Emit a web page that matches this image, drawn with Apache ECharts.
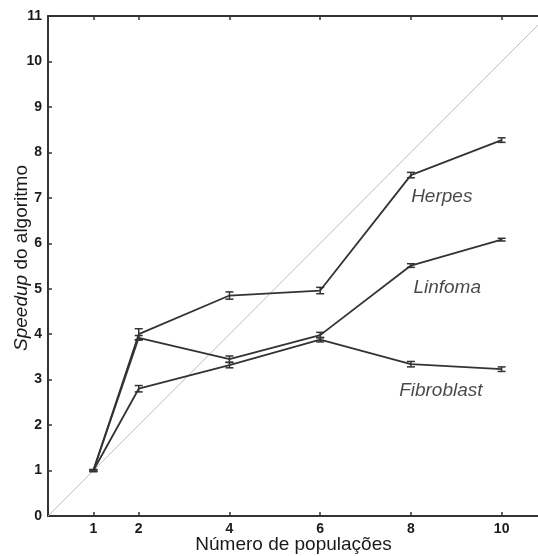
<!DOCTYPE html>
<html><head><meta charset="utf-8">
<script src="https://cdn.jsdelivr.net/npm/echarts@6/dist/echarts.min.js"></script>
<style>html,body{margin:0;padding:0;background:#fff}#c{width:538px;height:556px}</style>
</head><body><div id="c"></div>
<script>
const xValues = [1, 2, 4, 6, 8, 10];
const xTickLabels = [1, 2, 4, 6, 8, 10];
const herpes = [1.0, 4.0, 4.85, 4.96, 7.5, 8.27];
const herpesErr = [0.02, 0.12, 0.08, 0.07, 0.06, 0.05];
const linfoma = [1.0, 3.92, 3.45, 3.98, 5.51, 6.08];
const linfomaErr = [0.02, 0.05, 0.07, 0.06, 0.04, 0.03];
const fibroblast = [1.0, 2.8, 3.32, 3.88, 3.34, 3.23];
const fibroblastErr = [0.02, 0.07, 0.06, 0.05, 0.06, 0.05];
const idealLine = [[0, 0], [11, 11]];
const labelNames = ['Herpes', 'Linfoma', 'Fibroblast'];
const labelPos = [[8.68, 7.02], [8.8, 5.02], [8.66, 2.75]];

const font = 'Liberation Sans, Arial, sans-serif';
const lineColor = '#333';

function pairs(vals) { return xValues.map((x, i) => [x, vals[i]]); }
function errData(vals, errs) { return xValues.map((x, i) => [x, vals[i] - errs[i], vals[i] + errs[i]]); }
function errSeries(vals, errs) {
  return {
    type: 'custom',
    data: errData(vals, errs),
    z: 4,
    renderItem: function (params, api) {
      const lo = api.coord([api.value(0), api.value(1)]);
      const hi = api.coord([api.value(0), api.value(2)]);
      const w = 4;
      const st = { stroke: lineColor, lineWidth: 1.5 };
      return {
        type: 'group',
        children: [
          { type: 'line', shape: { x1: lo[0], y1: lo[1], x2: hi[0], y2: hi[1] }, style: st },
          { type: 'line', shape: { x1: lo[0] - w, y1: lo[1], x2: lo[0] + w, y2: lo[1] }, style: st },
          { type: 'line', shape: { x1: hi[0] - w, y1: hi[1], x2: hi[0] + w, y2: hi[1] }, style: st }
        ]
      };
    }
  };
}
function lineSeries(vals) {
  return { type: 'line', data: pairs(vals), symbol: 'none', lineStyle: { color: lineColor, width: 1.8 }, z: 3 };
}

const chart = echarts.init(document.getElementById('c'), null, { renderer: 'canvas' });
chart.setOption({
  animation: false,
  backgroundColor: '#fff',
  grid: { left: 48, top: 16, width: 499, height: 500, containLabel: false, outerBoundsMode: 'none' },
  xAxis: [{
    type: 'value', min: 0, max: 11, position: 'bottom',
    axisLine: { lineStyle: { color: '#333', width: 2 } },
    axisTick: { inside: true, length: 4, customValues: xTickLabels, lineStyle: { color: '#333', width: 1.5 } },
    axisLabel: { customValues: xTickLabels, color: '#1a1a1a', fontFamily: font, fontWeight: 'bold', fontSize: 14, margin: 6 },
    splitLine: { show: false },
    name: 'Número de populações', nameLocation: 'middle', nameGap: 19, nameMoveOverlap: false,
    nameTextStyle: { color: '#1a1a1a', fontFamily: font, fontSize: 19, padding: [0, 8, 0, 0] }
  }, {
    type: 'value', min: 0, max: 11, position: 'top',
    axisLine: { lineStyle: { color: '#333', width: 2 } },
    axisTick: { inside: true, length: 4, customValues: xTickLabels, lineStyle: { color: '#333', width: 1.5 } },
    axisLabel: { show: false }, splitLine: { show: false }
  }],
  yAxis: [{
    type: 'value', min: 0, max: 11, interval: 1,
    axisLine: { lineStyle: { color: '#333', width: 2 } },
    axisTick: { inside: true, length: 4, lineStyle: { color: '#333', width: 1.5 } },
    axisLabel: { color: '#1a1a1a', fontFamily: font, fontWeight: 'bold', fontSize: 14, margin: 6 },
    splitLine: { show: false },
    name: '{i|Speedup} do algoritmo', nameLocation: 'middle', nameGap: 17, nameRotate: 90, nameMoveOverlap: false,
    nameTextStyle: { color: '#1a1a1a', fontFamily: font, fontSize: 19, padding: [0, 0, 0, 16],
      rich: { i: { fontStyle: 'italic', fontFamily: font, fontSize: 19, color: '#1a1a1a' } } }
  }],
  series: [
    { type: 'line', data: idealLine, symbol: 'none', lineStyle: { color: '#bdbdbd', width: 1 }, z: 1 },
    lineSeries(herpes), lineSeries(linfoma), lineSeries(fibroblast),
    errSeries(herpes, herpesErr), errSeries(linfoma, linfomaErr), errSeries(fibroblast, fibroblastErr),
    {
      type: 'scatter', symbolSize: 0, z: 5,
      data: labelNames.map((n, i) => ({ value: labelPos[i], name: n })),
      label: { show: true, position: 'inside', formatter: '{b}', color: '#1a1a1a', fontFamily: font, fontStyle: 'italic', fontSize: 19 }
    }
  ]
});
</script></body></html>
